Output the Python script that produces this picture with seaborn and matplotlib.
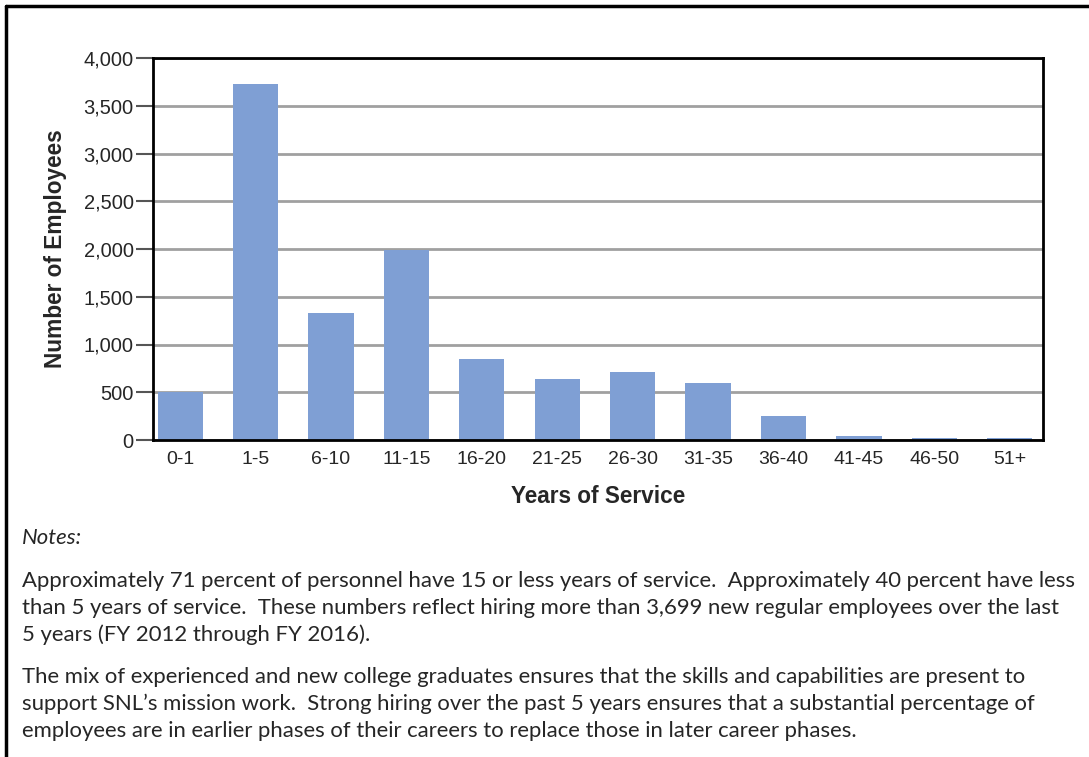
import matplotlib
matplotlib.use("Agg")
import matplotlib.pyplot as plt
import seaborn as sns
import pandas as pd
from matplotlib.lines import Line2D

# ── Data ─────────────────────────────────────────────────────────
years = ["0-1", "1-5", "6-10", "11-15", "16-20", "21-25",
         "26-30", "31-35", "36-40", "41-45", "46-50", "51+"]
employees = [505, 3725, 1325, 1985, 850, 640, 712, 600, 253, 42, 25, 25]
y_ticks = [0, 500, 1000, 1500, 2000, 2500, 3000, 3500, 4000]

notes_title = "Notes:"
notes_lines = [
    "Approximately 71 percent of personnel have 15 or less years of service.  Approximately 40 percent have less",
    "than 5 years of service.  These numbers reflect hiring more than 3,699 new regular employees over the last",
    "5 years (FY 2012 through FY 2016).",
    None,
    "The mix of experienced and new college graduates ensures that the skills and capabilities are present to",
    "support SNL\u2019s mission work.  Strong hiring over the past 5 years ensures that a substantial percentage of",
    "employees are in earlier phases of their careers to replace those in later career phases.",
]

df = pd.DataFrame({"years": years, "employees": employees})

sns.set_style("white")
plt.rcParams["font.family"] = ["Liberation Sans", "DejaVu Sans"]

W, H = 1089, 757
fig = plt.figure(figsize=(W / 100, H / 100), dpi=100)
ax = fig.add_axes([153 / W, 1 - 440 / H, 890 / W, 382 / H])

sns.barplot(data=df, x="years", y="employees", color="#7F9FD4",
            saturation=1, width=0.6, linewidth=0, ax=ax)

ax.set_ylim(0, 4000)
ax.set_xlim(-0.36, len(years) - 0.56)
ax.set_yticks(y_ticks)
ax.set_yticklabels([f"{v:,}" for v in y_ticks])
ax.yaxis.grid(True, color="#A0A0A0", linewidth=2)
ax.set_axisbelow(True)
ax.tick_params(axis="y", length=12, width=1.5, color="#555555",
               labelsize=14.5, pad=2, left=True)
ax.tick_params(axis="x", length=0, labelsize=14, pad=8)
for s in ax.spines.values():
    s.set_visible(True)
    s.set_color("black")
    s.set_linewidth(2)

ax.set_xlabel("Years of Service", fontsize=16.3, fontweight="bold", labelpad=12)
ax.set_ylabel("Number of Employees", fontsize=16.3, fontweight="bold", labelpad=12)

# ── Outer frame (left and top) ───────────────────────────────────
fig.add_artist(Line2D([6 / W, 6 / W], [0, 1 - 6 / H], transform=fig.transFigure,
                      color="black", linewidth=2.5))
fig.add_artist(Line2D([6 / W, 1], [1 - 6 / H, 1 - 6 / H], transform=fig.transFigure,
                      color="black", linewidth=2.5))

# ── Notes block ──────────────────────────────────────────────────
note_font = ["Lato", "DejaVu Sans"]
fig.text(22 / W, 1 - 538 / H, notes_title, fontsize=15.9, style="italic",
         family=note_font, va="center", ha="left")
y = 581
for line in notes_lines:
    if line is None:
        y += 15
        continue
    fig.text(22 / W, 1 - y / H, line, fontsize=15.9, family=note_font,
             va="center", ha="left")
    y += 27

plt.savefig("out.png", dpi=100)
